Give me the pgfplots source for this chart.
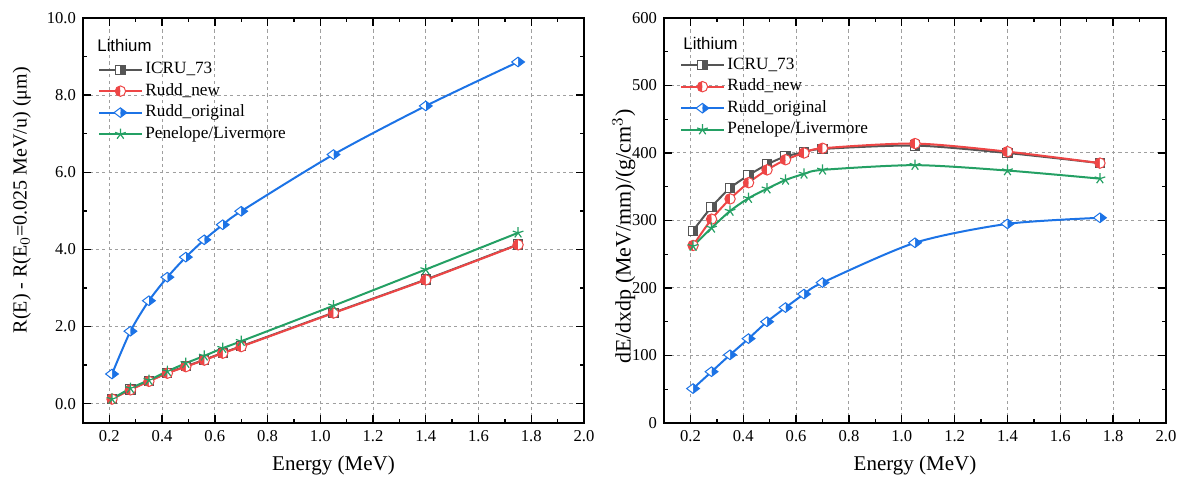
\documentclass[border=0pt]{standalone}
\usepackage{fontspec}
\setmainfont{Liberation Serif}
\setsansfont{Liberation Sans}
\usepackage{pgfplots}
\pgfplotsset{compat=1.18}
\usetikzlibrary{plotmarks}
\definecolor{icru}{RGB}{85,85,85}
\definecolor{ruddnew}{RGB}{238,70,70}
\definecolor{ruddorig}{RGB}{28,115,230}
\definecolor{pen}{RGB}{36,160,100}

% square with white left half and filled right half
\pgfdeclareplotmark{hsqr}{%
  \begin{pgfscope}\pgfsetfillcolor{white}%
  \pgfpathrectangle{\pgfpoint{-\pgfplotmarksize}{-\pgfplotmarksize}}{\pgfpoint{\pgfplotmarksize}{2\pgfplotmarksize}}%
  \pgfusepathqfill\end{pgfscope}%
  \pgfpathrectangle{\pgfpoint{0pt}{-\pgfplotmarksize}}{\pgfpoint{\pgfplotmarksize}{2\pgfplotmarksize}}%
  \pgfusepathqfill
  \pgfpathrectangle{\pgfpoint{-\pgfplotmarksize}{-\pgfplotmarksize}}{\pgfpoint{2\pgfplotmarksize}{2\pgfplotmarksize}}%
  \pgfusepathqstroke
}

\pgfplotstableread{
E     icru  rnew  rorig pen
0.21  0.13  0.12  0.77  0.12
0.28  0.37  0.36  1.88  0.40
0.35  0.59  0.58  2.67  0.61
0.42  0.80  0.79  3.28  0.84
0.49  0.97  0.96  3.80  1.05
0.56  1.14  1.13  4.25  1.24
0.63  1.32  1.31  4.64  1.44
0.70  1.49  1.48  4.99  1.62
1.05  2.36  2.35  6.46  2.54
1.40  3.22  3.21  7.72  3.48
1.75  4.13  4.12  8.86  4.43
}\rangetab

\pgfplotstableread{
E     icru  rnew  rorig pen
0.21  285   263   51    262
0.28  320   302   76    289
0.35  348   332   101   314
0.42  367   356   125   333
0.49  383   375   150   347
0.56  395   390   171   360
0.63  401   400   191   369
0.70  406   407   208   375
1.05  411   414   267   382
1.40  400   402   295   374
1.75  385   385   304   362
}\stoptab

\pgfplotsset{
  base/.style={
    scale only axis, width=250.5pt, height=202.5pt,
    xmin=0.1, xmax=2.0,
    xtick={0.2,0.4,0.6,0.8,1.0,1.2,1.4,1.6,1.8,2.0},
    minor x tick num=1, minor y tick num=1,
    tick align=inside, major tick length=4pt, minor tick length=2.2pt,
    grid=major, major grid style={dash pattern=on 1.6pt off 1.6pt, gray!75, line width=0.5pt},
    axis line style={line width=1pt},
    every tick/.style={black, line width=0.7pt},
    /pgf/number format/assume math mode=true,
    xticklabel={\pgfmathprintnumber[fixed, fixed zerofill, precision=1]{\tick}},
    tick label style={font=\rmfamily\fontsize{8.3}{10}\selectfont},
    label style={font=\fontsize{10.5}{12}\selectfont},
    xlabel={Energy (MeV)},
    xlabel style={at={(axis description cs:0.5,-0.106)}, anchor=center},
    legend style={draw=none, fill=none, font=\fontsize{8.6}{10}\selectfont, anchor=north west,
      cells={anchor=west}, inner sep=0pt, row sep=0pt, column sep=0pt,
      nodes={inner sep=0pt, inner xsep=1.5pt, text height=7.5pt, text depth=3.25pt}},
    legend image code/.code={\draw[mark repeat=2, mark phase=2] plot coordinates {(0pt,0pt) (10.5pt,0pt) (21pt,0pt)};},
    every axis plot/.append style={line width=1pt, smooth, tension=0.45},
  },
  sicru/.style={icru, mark=hsqr, mark size=2.3pt, mark options={solid, line width=0.5pt, fill=icru}},
  snew/.style={ruddnew, mark=halfcircle*, mark size=2.6pt, mark options={solid, line width=0.5pt, rotate=90, fill=ruddnew}},
  sorig/.style={ruddorig, mark=halfdiamond*, mark size=3.2pt, mark options={solid, line width=0.5pt, rotate=90, fill=ruddorig}},
  spen/.style={pen, mark=star, mark size=2.8pt, mark options={solid, line width=0.6pt}},
}

\begin{document}
\begin{tikzpicture}
\useasboundingbox (0,0) rectangle (592.5pt,242.5pt);
\begin{axis}[base, at={(41.5pt,31pt)}, anchor=south west,
  ymin=-0.5, ymax=10, ytick={0,2,4,6,8,10},
  yticklabel={\pgfmathprintnumber[fixed, fixed zerofill, precision=1]{\tick}},
  ylabel={R(E) - R(E$_0$=0.025 MeV/u) (μm)},
  ylabel style={at={(axis description cs:-0.122,0.55)}, anchor=center, font=\fontsize{10}{12}\selectfont},
  legend style={at={(axis description cs:0.03,0.900)}},
]
\addplot[sicru] table[x=E, y=icru] {\rangetab};
\addlegendentry{ICRU\_73}
\addplot[snew] table[x=E, y=rnew] {\rangetab};
\addlegendentry{Rudd\_new}
\addplot[sorig] table[x=E, y=rorig] {\rangetab};
\addlegendentry{Rudd\_original}
\addplot[spen] table[x=E, y=pen] {\rangetab};
\addlegendentry{Penelope/Livermore}
\node[anchor=west, inner sep=0pt, font=\sffamily\fontsize{8.4}{10}\selectfont] at (axis description cs:0.028,0.933) {Lithium};
\end{axis}

\begin{axis}[base, at={(332pt,31pt)}, anchor=south west, width=251pt,
  ymin=0, ymax=600, ytick={0,100,200,300,400,500,600},
  yticklabel={\pgfmathprintnumber{\tick}},
  ylabel={dE/dxdp (MeV/mm)/(g/cm$^3$)},
  ylabel style={at={(axis description cs:-0.08,0.46)}, anchor=center, font=\fontsize{11}{13}\selectfont},
  legend style={at={(axis description cs:0.032,0.911)}},
]
\addplot[sicru] table[x=E, y=icru] {\stoptab};
\addlegendentry{ICRU\_73}
\addplot[snew] table[x=E, y=rnew] {\stoptab};
\addlegendentry{Rudd\_new}
\addplot[sorig] table[x=E, y=rorig] {\stoptab};
\addlegendentry{Rudd\_original}
\addplot[spen] table[x=E, y=pen] {\stoptab};
\addlegendentry{Penelope/Livermore}
\node[anchor=west, inner sep=0pt, font=\sffamily\fontsize{8.4}{10}\selectfont] at (axis description cs:0.038,0.938) {Lithium};
\end{axis}
\end{tikzpicture}
\end{document}
